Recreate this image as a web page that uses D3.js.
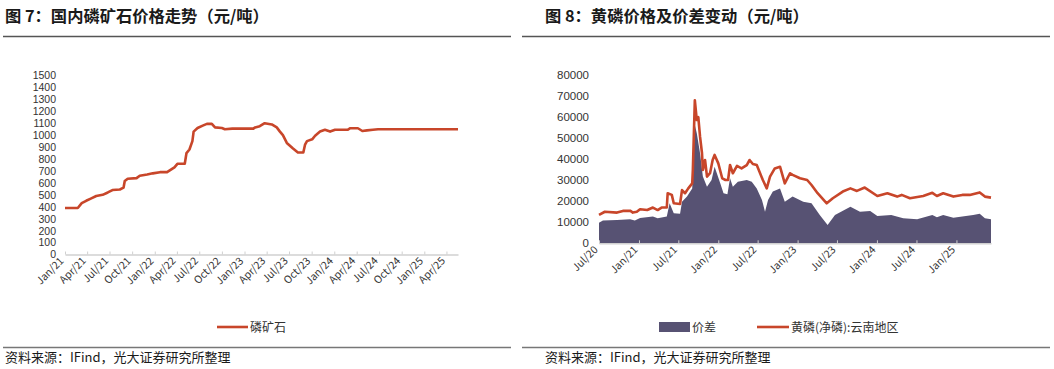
<!DOCTYPE html>
<html>
<head>
<meta charset="utf-8">
<script src="https://cdn.jsdelivr.net/npm/d3@7"></script>
<style>
  body { margin: 0; background: #fff; }
  svg text { font-family: "Noto Sans CJK SC", "Noto Sans", sans-serif; }
  svg .ylab text { font-family: "Liberation Sans", Arial, sans-serif; }
</style>
</head>
<body>
<svg id="chart" width="1054" height="369"></svg>
<script>
// figure 7: phosphate rock price (yuan/ton)
var rockDates = ['2021-01-01','2021-02-22','2021-03-10','2021-03-28','2021-04-18','2021-05-08','2021-06-03','2021-06-24',
  '2021-07-13','2021-08-12','2021-08-27','2021-09-01','2021-09-13','2021-10-19','2021-11-01','2021-12-01','2021-12-24',
  '2022-01-22','2022-02-20','2022-03-03','2022-03-22','2022-04-03','2022-05-03','2022-05-10','2022-05-22','2022-06-03',
  '2022-06-08','2022-06-24','2022-07-15','2022-08-01','2022-08-21','2022-09-03','2022-10-01','2022-10-13','2022-11-12',
  '2023-02-06','2023-02-13','2023-03-04','2023-03-24','2023-04-22','2023-05-12','2023-05-25','2023-06-06','2023-06-22',
  '2023-07-16','2023-08-06','2023-08-28','2023-09-04','2023-09-12','2023-10-03','2023-10-15','2023-11-04','2023-11-24',
  '2023-12-15','2024-01-04','2024-02-24','2024-03-06','2024-04-06','2024-04-24','2024-05-13','2024-06-06','2024-06-27',
  '2025-05-18'];
var rockPrice = [390,390,430,450,470,490,500,520,
  540,545,560,615,635,640,660,670,680,
  690,690,705,730,760,760,850,880,950,
  1030,1060,1080,1095,1095,1065,1060,1050,1055,
  1055,1065,1075,1100,1090,1065,1030,1000,935,
  890,855,855,920,950,965,995,1030,1045,
  1030,1045,1045,1058,1058,1035,1040,1045,1050,
  1050];
var rockTicks = ['Jan/21','Apr/21','Jul/21','Oct/21','Jan/22','Apr/22','Jul/22','Oct/22','Jan/23',
  'Apr/23','Jul/23','Oct/23','Jan/24','Apr/24','Jul/24','Oct/24','Jan/25','Apr/25'];

// figure 8: yellow phosphorus price (Yunnan) and spread
var p4Dates = ['2020-07-01','2020-07-28','2020-09-22','2020-10-19','2020-11-21','2020-12-04','2020-12-22','2021-01-06',
  '2021-02-08','2021-03-06','2021-03-28','2021-04-15','2021-05-09','2021-05-13','2021-06-01','2021-06-10','2021-07-09',
  '2021-07-18','2021-08-01','2021-08-15','2021-09-03','2021-09-06','2021-09-15','2021-09-24','2021-10-01','2021-10-09',
  '2021-10-18','2021-10-22','2021-11-01','2021-11-10','2021-11-24','2021-12-06','2021-12-15','2022-01-01','2022-01-19',
  '2022-02-03','2022-02-15','2022-02-24','2022-03-09','2022-03-28','2022-04-18','2022-05-12','2022-05-25','2022-06-09',
  '2022-06-27','2022-07-25','2022-08-12','2022-08-27','2022-09-18','2022-10-12','2022-11-03','2022-11-27','2022-12-09',
  '2023-01-12','2023-02-14','2023-03-06','2023-04-03','2023-05-15','2023-06-12','2023-07-28','2023-09-01','2023-10-01',
  '2023-11-06','2024-01-03','2024-02-18','2024-04-03','2024-04-24','2024-06-01','2024-08-01','2024-09-12','2024-10-03',
  '2024-11-01','2024-12-18','2025-01-28','2025-03-03','2025-04-18','2025-05-12','2025-06-09'];
var p4Price = [13500,15000,14600,15400,15500,14600,15000,16200,
  15800,17000,15800,17000,17000,23800,23000,19000,18700,
  25300,23800,26000,28500,35000,68000,58600,60000,50700,
  42800,34900,39600,31700,33300,39600,42000,38000,30900,
  30100,30100,37200,33300,36800,35600,37200,39600,37700,
  37200,30100,26100,31700,35600,36400,28500,33300,32500,
  30900,30100,27700,23800,19000,21400,24600,26100,24900,
  26500,22500,23800,22200,23000,21400,22500,24000,22500,
  23800,22200,23000,23000,24200,22200,21700];

var spreadDates = ['2020-07-01','2020-07-19','2020-09-22','2020-11-21','2020-12-13','2021-01-06','2021-03-06','2021-03-28',
  '2021-05-09','2021-05-22','2021-06-10','2021-07-09','2021-07-18','2021-08-10','2021-09-03','2021-09-15','2021-09-24',
  '2021-10-09','2021-10-22','2021-11-10','2021-12-01','2021-12-15','2022-01-10','2022-01-25','2022-02-12','2022-02-24',
  '2022-03-09','2022-04-01','2022-05-12','2022-06-04','2022-06-27','2022-07-21','2022-08-04','2022-08-18','2022-09-09',
  '2022-10-12','2022-11-03','2022-12-09','2023-01-27','2023-03-06','2023-04-13','2023-05-19','2023-06-22','2023-09-01',
  '2023-10-15','2023-12-01','2024-01-03','2024-03-07','2024-05-01','2024-07-04','2024-09-12','2024-10-03','2024-11-01',
  '2024-12-18','2025-01-28','2025-03-19','2025-04-18','2025-05-12','2025-06-09'];
var spreadVals = [9800,10800,11100,11400,10800,12000,12700,11900,
  12700,19000,14300,14000,19800,22200,26100,56200,52300,
  42800,31700,26900,30100,36400,28500,23800,23300,30900,
  26900,29300,30100,29300,26100,20600,15000,20600,24600,
  26100,19800,22200,19800,19000,13500,8700,13500,17400,
  15000,15400,13000,13500,11900,11400,13500,12400,13500,
  12200,12700,13500,14000,11900,11400];
var p4Ticks = ['Jul/20','Jan/21','Jul/21','Jan/22','Jul/22','Jan/23','Jul/23','Jan/24','Jul/24','Jan/25'];

var red = '#C8462A';
var purple = '#575273';
var parseDate = d3.timeParse('%Y-%m-%d');
var parseTick = d3.timeParse('%b/%y');

var svg = d3.select('#chart');

function header(x0, x1, tx, title) {
  svg.append('text')
    .attr('x', tx).attr('y', 22)
    .attr('font-size', 16.3).attr('font-weight', 'bold').attr('fill', '#1a1a1a')
    .text(title);
  svg.append('line')
    .attr('x1', x0).attr('x2', x1).attr('y1', 36.5).attr('y2', 36.5)
    .attr('stroke', '#555').attr('stroke-width', 1.6);
  svg.append('line')
    .attr('x1', x0).attr('x2', x1).attr('y1', 347.5).attr('y2', 347.5)
    .attr('stroke', '#777').attr('stroke-width', 1.6);
  svg.append('text')
    .attr('x', tx).attr('y', 362)
    .attr('font-size', 13).attr('fill', '#1a1a1a')
    .text('资料来源：IFind，光大证券研究所整理');
}

function drawXAxis(x, y0, ticks, cls) {
  var g = svg.append('g')
    .attr('class', cls)
    .attr('transform', 'translate(0,' + y0 + ')')
    .call(d3.axisBottom(x).tickValues(ticks.map(parseTick)).tickFormat(d3.timeFormat('%b/%y'))
      .tickSizeInner(-3).tickSizeOuter(0));
  g.select('.domain').attr('stroke', '#d0d0d0').attr('stroke-width', 1.5);
  g.selectAll('.tick line').attr('stroke', '#d0d0d0');
  g.selectAll('.tick text')
    .attr('font-size', 10.5).attr('fill', '#333')
    .attr('text-anchor', 'end')
    .attr('dy', 0).attr('y', 0)
    .attr('transform', 'translate(-1,7) rotate(-45)');
  return g;
}

function drawYAxis(y, xPos, step, max, fs) {
  var g = svg.append('g')
    .attr('class', 'ylab')
    .attr('transform', 'translate(' + xPos + ',0)')
    .call(d3.axisLeft(y).tickValues(d3.range(0, max + 1, step)).tickFormat(d3.format('d')).tickSize(0).tickPadding(0));
  g.select('.domain').remove();
  g.selectAll('.tick text').attr('font-size', fs).attr('fill', '#333');
}

/* LEFT CHART */
header(3, 511, 5, '图 7：国内磷矿石价格走势（元/吨）');

var x7 = d3.scaleTime().domain([parseDate('2021-01-01'), parseDate('2025-05-18')]).range([65, 458]);
var y7 = d3.scaleLinear().domain([0, 1500]).range([254.5, 75.5]);

drawYAxis(y7, 56, 100, 1500, 10.5);
drawXAxis(x7, 254.5, rockTicks, 'x7');

var rockData = rockDates.map(function(d, i) { return {date: parseDate(d), value: rockPrice[i]}; });
svg.append('path')
  .datum(rockData)
  .attr('fill', 'none')
  .attr('stroke', red)
  .attr('stroke-width', 2.6)
  .attr('stroke-linejoin', 'round')
  .attr('d', d3.line().x(function(d) { return x7(d.date); }).y(function(d) { return y7(d.value); }));

// legend
svg.append('line').attr('x1', 217).attr('x2', 248).attr('y1', 327).attr('y2', 327)
  .attr('stroke', red).attr('stroke-width', 2.6);
svg.append('text').attr('x', 250).attr('y', 331.5).attr('font-size', 12).attr('fill', '#333').text('磷矿石');

/* RIGHT CHART */
header(522, 1050, 545, '图 8：黄磷价格及价差变动（元/吨）');

var x8 = d3.scaleTime().domain([parseDate('2020-07-01'), parseDate('2025-06-09')]).range([599, 991]);
var y8 = d3.scaleLinear().domain([0, 80000]).range([243.3, 75]);

drawYAxis(y8, 589, 10000, 80000, 11.5);

var spreadData = spreadDates.map(function(d, i) { return {date: parseDate(d), value: spreadVals[i]}; });
svg.append('path')
  .datum(spreadData)
  .attr('fill', purple)
  .attr('d', d3.area().x(function(d) { return x8(d.date); }).y0(y8(0)).y1(function(d) { return y8(d.value); }));

var p4Data = p4Dates.map(function(d, i) { return {date: parseDate(d), value: p4Price[i]}; });
svg.append('path')
  .datum(p4Data)
  .attr('fill', 'none')
  .attr('stroke', red)
  .attr('stroke-width', 2.6)
  .attr('stroke-linejoin', 'round')
  .attr('d', d3.line().x(function(d) { return x8(d.date); }).y(function(d) { return y8(d.value); }));

drawXAxis(x8, 243.3, p4Ticks, 'x8');

// legend
svg.append('rect').attr('x', 659).attr('y', 322).attr('width', 31).attr('height', 10).attr('fill', purple);
svg.append('text').attr('x', 692).attr('y', 331.5).attr('font-size', 12).attr('fill', '#333').text('价差');
svg.append('line').attr('x1', 757).attr('x2', 789).attr('y1', 327).attr('y2', 327)
  .attr('stroke', red).attr('stroke-width', 2.6);
svg.append('text').attr('x', 791).attr('y', 331.5).attr('font-size', 12).attr('fill', '#333').text('黄磷(净磷):云南地区');
</script>
</body>
</html>
